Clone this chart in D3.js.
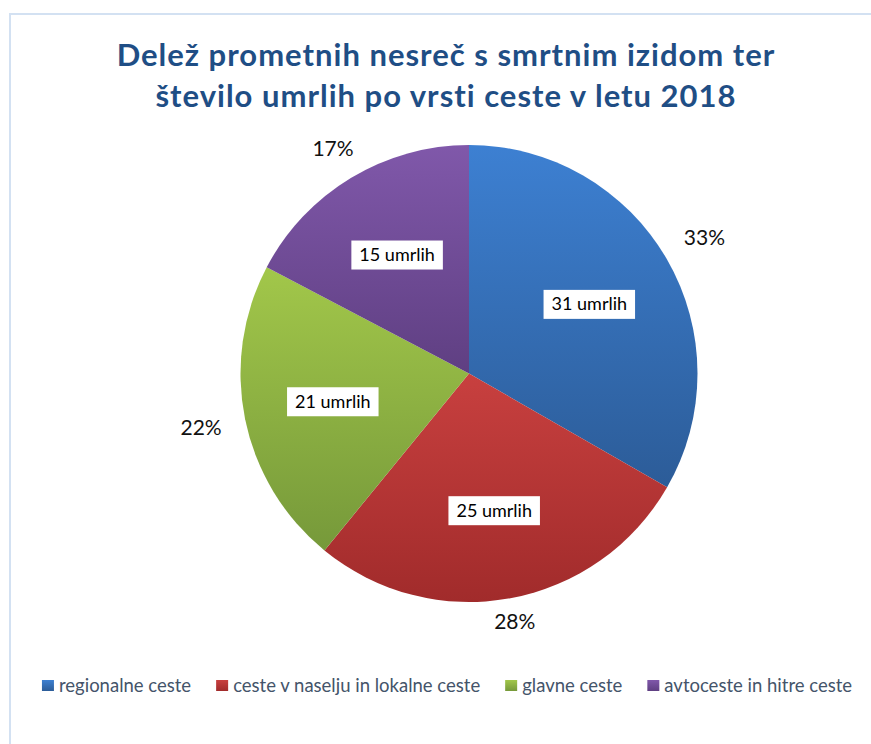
<!DOCTYPE html>
<html>
<head>
<meta charset="utf-8">
<script src="https://cdnjs.cloudflare.com/ajax/libs/d3/7.8.5/d3.min.js"></script>
<title>Delež prometnih nesreč</title>
<style>
  body{ margin:0; background:#fff; }
  text{ font-family: Lato, "Open Sans", sans-serif; }
</style>
</head>
<body>
<script>
var categories = ["regionalne ceste", "ceste v naselju in lokalne ceste", "glavne ceste", "avtoceste in hitre ceste"],
    shares = [33.3, 27.6, 21.8, 17.3],     // delež nesreč (%)
    deaths = [31, 25, 21, 15],             // število umrlih
    colorsTop = ["#3d80d2", "#c8403f", "#a2c74a", "#8058aa"],
    colorsBottom = ["#2c5c98", "#a12b2b", "#76993a", "#5f3f82"],
    titleLines = ["Delež prometnih nesreč s smrtnim izidom ter", "število umrlih po vrsti ceste v letu 2018"];

var w = 871, h = 744,
    cx = 469, cy = 373.5,
    R = 228.5;

var svg = d3.select("body").append("svg")
    .attr("width", w)
    .attr("height", h);

// okvir
svg.append("rect")
    .attr("x", 10).attr("y", 14)
    .attr("width", w + 20).attr("height", h + 20)
    .attr("fill", "none")
    .attr("stroke", "#d3e1f2")
    .attr("stroke-width", 2);

var defs = svg.append("defs");
categories.forEach(function(c, i){
  var g = defs.append("linearGradient")
      .attr("id", "grad" + i)
      .attr("x1", 0).attr("y1", 0).attr("x2", 0).attr("y2", 1);
  g.append("stop").attr("offset", "0%").attr("stop-color", colorsTop[i]);
  g.append("stop").attr("offset", "100%").attr("stop-color", colorsBottom[i]);
});

// naslov
svg.selectAll(".title")
  .data(titleLines)
  .enter().append("text")
    .attr("class", "title")
    .attr("x", 446)
    .attr("y", function(d, i){ return 66 + i*41; })
    .attr("text-anchor", "middle")
    .attr("font-size", 31)
    .attr("letter-spacing", 1)
    .attr("font-weight", "bold")
    .attr("fill", "#1f4e85")
    .text(function(d){ return d; });

var pie = d3.pie().sort(null).value(function(d){ return d; });
var arcs = pie(shares);
var arc = d3.arc().innerRadius(0).outerRadius(R);

var g = svg.append("g").attr("transform", "translate(" + cx + "," + cy + ")");

g.selectAll("path")
  .data(arcs)
  .enter().append("path")
    .attr("d", arc)
    .attr("fill", function(d, i){ return "url(#grad" + i + ")"; });

// notranje oznake (število umrlih)
var inner = d3.arc().innerRadius(0).outerRadius(278);
var lab = g.selectAll(".inlab")
  .data(arcs)
  .enter().append("g")
    .attr("class", "inlab")
    .attr("transform", function(d){ var c = inner.centroid(d); return "translate(" + c + ")"; });

lab.append("text")
    .attr("text-anchor", "middle")
    .attr("dy", "0.35em")
    .attr("font-size", 18)
    .attr("fill", "#000")
    .text(function(d, i){ return deaths[i] + " umrlih"; });

lab.each(function(){
  var t = d3.select(this).select("text"),
      b = t.node().getBBox();
  d3.select(this).insert("rect", "text")
    .attr("x", b.x - 8).attr("y", -14)
    .attr("width", b.width + 16).attr("height", 29)
    .attr("fill", "#fff");
});

// zunanje oznake (delež)
g.selectAll(".pct")
  .data(arcs)
  .enter().append("text")
    .attr("class", "pct")
    .attr("text-anchor", "middle")
    .attr("dy", "0.35em")
    .attr("font-size", 21)
    .attr("fill", "#111")
    .attr("transform", function(d){
      var a = (d.startAngle + d.endAngle)/2,
          sx = Math.sin(a), sy = -Math.cos(a),
          r = R + 10 + 34*Math.abs(sx) + 8*Math.abs(sy);
      return "translate(" + (r*sx) + "," + (r*sy) + ")";
    })
    .text(function(d){ return Math.round(d.value) + "%"; });

// legenda
var leg = svg.append("g").attr("transform", "translate(0,685)");
var items = leg.selectAll(".leg")
  .data(categories)
  .enter().append("g")
    .attr("class", "leg");

items.append("rect")
    .attr("width", 12).attr("height", 11)
    .attr("y", -5)
    .attr("fill", function(d, i){ return "url(#grad" + i + ")"; });

items.append("text")
    .attr("x", 17)
    .attr("dy", "0.4em")
    .attr("font-size", 18.5)
    .attr("fill", "#44546a")
    .text(function(d){ return d; });

var widths = [];
items.each(function(){ widths.push(17 + d3.select(this).select("text").node().getComputedTextLength()); });
var gap = 25,
    total = d3.sum(widths) + gap*(widths.length - 1),
    x0 = 447 - total/2;
items.attr("transform", function(d, i){
  var x = x0 + d3.sum(widths.slice(0, i)) + gap*i;
  return "translate(" + x + ",0)";
});
</script>
</body>
</html>
